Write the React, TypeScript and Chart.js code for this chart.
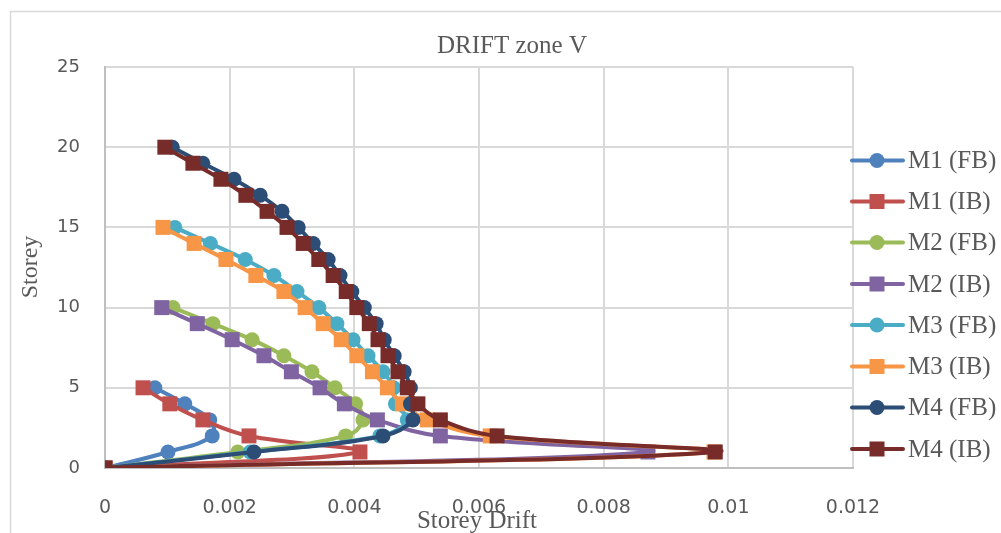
import React, { useEffect, useRef } from "react";
import { Chart, registerables } from "chart.js";

Chart.register(...registerables);

const seriesNames = ["M1 (FB)", "M1 (IB)", "M2 (FB)", "M2 (IB)", "M3 (FB)", "M3 (IB)", "M4 (FB)", "M4 (IB)"];
const seriesColors = ["#4F81BD", "#C0504D", "#9BBB59", "#8064A2", "#4BACC6", "#F79646", "#2C4D75", "#772C2A"];
const seriesMarkers = ["circle", "rect", "circle", "rect", "circle", "rect", "circle", "rect"];

// storey drift per storey (index = storey number, starting at 0)
const m1fb = [0, 0.00101, 0.00172, 0.00168, 0.00128, 0.0008];
const m1ib = [0, 0.00409, 0.00231, 0.00157, 0.00104, 0.00061];
const m2fb = [0, 0.00213, 0.00386, 0.00414, 0.00402, 0.00369, 0.00332, 0.00287, 0.00236, 0.00173, 0.00109];
const m2ib = [0, 0.00871, 0.00538, 0.00437, 0.00384, 0.00345, 0.00299, 0.00255, 0.00204, 0.00148, 0.00091];
const m3fb = [0, 0.00233, 0.00441, 0.00485, 0.00466, 0.00463, 0.00446, 0.00422, 0.00398, 0.00372, 0.00343, 0.00308, 0.00271, 0.00225, 0.00169, 0.00112];
const m3ib = [0, 0.00977, 0.00618, 0.00517, 0.00477, 0.00453, 0.00429, 0.00404, 0.00379, 0.0035, 0.00321, 0.00287, 0.00242, 0.00194, 0.00143, 0.00093];
const m4fb = [0, 0.00239, 0.00446, 0.00494, 0.0049, 0.0049, 0.0048, 0.00464, 0.00448, 0.00435, 0.00416, 0.00396, 0.00377, 0.00358, 0.00334, 0.0031, 0.00284, 0.00249, 0.00207, 0.00157, 0.00108];
const m4ib = [0, 0.00979, 0.00629, 0.00538, 0.00502, 0.00485, 0.0047, 0.00454, 0.00438, 0.00424, 0.00404, 0.00387, 0.00366, 0.00343, 0.00318, 0.00292, 0.0026, 0.00226, 0.00186, 0.00141, 0.00096];

const allSeries = [m1fb, m1ib, m2fb, m2ib, m3fb, m3ib, m4fb, m4ib];

const xTickLabels = ["0", "0.002", "0.004", "0.006", "0.008", "0.01", "0.012"];
const yTickLabels = ["0", "5", "10", "15", "20", "25"];

const chartTitle = "DRIFT zone V";
const xTitle = "Storey Drift";
const yTitle = "Storey";

const TEXT = "#595959";
const SERIF = "'Liberation Serif', 'Times New Roman', serif";
const TICKFONT = "'DejaVu Sans', sans-serif";

const decorPlugin = {
  id: "decor",
  beforeDraw(chart: any) {
    const ctx = chart.ctx;
    ctx.save();
    ctx.fillStyle = "#ffffff";
    ctx.fillRect(0, 0, chart.width, chart.height);
    ctx.strokeStyle = "#d9d9d9";
    ctx.lineWidth = 1.5;
    ctx.beginPath();
    ctx.moveTo(10.5, chart.height + 2);
    ctx.lineTo(10.5, 11.5);
    ctx.lineTo(chart.width + 2, 11.5);
    ctx.stroke();
    ctx.restore();
  },
  afterDraw(chart: any) {
    const ctx = chart.ctx;
    ctx.save();
    ctx.fillStyle = TEXT;
    ctx.textAlign = "center";
    ctx.textBaseline = "middle";
    ctx.font = `25px ${SERIF}`;
    ctx.fillText(chartTitle, 512, 46);
    ctx.font = `25px ${SERIF}`;
    ctx.fillText(xTitle, 477, 521);
    ctx.save();
    ctx.translate(31, 267);
    ctx.rotate(-Math.PI / 2);
    ctx.font = `24px ${SERIF}`;
    ctx.fillText(yTitle, 0, 0);
    ctx.restore();

    // legend
    const ys = [160.5, 201.5, 242.5, 284, 325, 366.5, 407.5, 449];
    seriesNames.forEach((name, i) => {
      const y = ys[i];
      const c = seriesColors[i];
      ctx.strokeStyle = c;
      ctx.lineWidth = 4;
      ctx.lineCap = "round";
      ctx.beginPath();
      ctx.moveTo(852, y);
      ctx.lineTo(903, y);
      ctx.stroke();
      ctx.fillStyle = c;
      if (seriesMarkers[i] === "circle") {
        ctx.beginPath();
        ctx.arc(877, y, 7.5, 0, Math.PI * 2);
        ctx.fill();
      } else {
        ctx.fillRect(877 - 7.5, y - 7.5, 15, 15);
      }
      ctx.fillStyle = TEXT;
      ctx.textAlign = "left";
      ctx.textBaseline = "middle";
      ctx.font = `25px ${SERIF}`;
      ctx.fillText(name, 908, y + 1);
    });
    ctx.restore();
  },
};

export default function App() {
  const ref = useRef<HTMLCanvasElement | null>(null);
  useEffect(() => {
    if (!ref.current) return;
    const datasets = allSeries.map((arr, i) => ({
      label: seriesNames[i],
      data: arr.map((x, s) => ({ x, y: s })),
      showLine: true,
      borderColor: seriesColors[i],
      backgroundColor: seriesColors[i],
      borderWidth: 4,
      tension: 0.4,
      pointStyle: seriesMarkers[i],
      pointRadius: seriesMarkers[i] === "circle" ? 7.5 : 10.6,
      pointBorderWidth: 0,
      pointBackgroundColor: seriesColors[i],
      pointBorderColor: seriesColors[i],
      order: 8 - i,
    }));
    const chart = new Chart(ref.current, {
      type: "scatter",
      data: { datasets },
      plugins: [decorPlugin],
      options: {
        responsive: false,
        animation: false,
        events: [],
        layout: { padding: { top: 67, right: 148, left: 0, bottom: 0 } },
        plugins: { legend: { display: false }, title: { display: false }, tooltip: { enabled: false } },
        scales: {
          x: {
            type: "linear",
            min: 0,
            max: 0.012,
            afterFit(scale: any) {
              scale.height = 65;
            },
            afterBuildTicks(scale: any) {
              scale.ticks = xTickLabels.map((_, i) => ({ value: i * 0.002 }));
            },
            ticks: {
              padding: 29,
              color: TEXT,
              font: { family: TICKFONT, size: 19 },
              maxRotation: 0,
              autoSkip: false,
              callback: (_v: any, i: number) => xTickLabels[i],
            },
            grid: { color: "#d9d9d9", lineWidth: 2, drawTicks: false },
            border: { color: "#bfbfbf", width: 2 },
          },
          y: {
            type: "linear",
            min: 0,
            max: 25,
            afterFit(scale: any) {
              scale.width = 105;
            },
            afterBuildTicks(scale: any) {
              scale.ticks = yTickLabels.map((_, i) => ({ value: i * 5 }));
            },
            ticks: {
              padding: 25,
              color: TEXT,
              font: { family: TICKFONT, size: 18 },
              autoSkip: false,
              callback: (_v: any, i: number) => yTickLabels[i],
            },
            grid: { color: "#d9d9d9", lineWidth: 2, drawTicks: false },
            border: { color: "#bfbfbf", width: 2 },
          },
        },
      },
    } as any);
    return () => chart.destroy();
  }, []);
  return (
    <div style={{ position: "absolute", left: 0, top: 0, width: 1001, height: 533, background: "#fff" }}>
      <canvas ref={ref} width={1001} height={533} style={{ display: "block", width: 1001, height: 533 }} />
    </div>
  );
}
